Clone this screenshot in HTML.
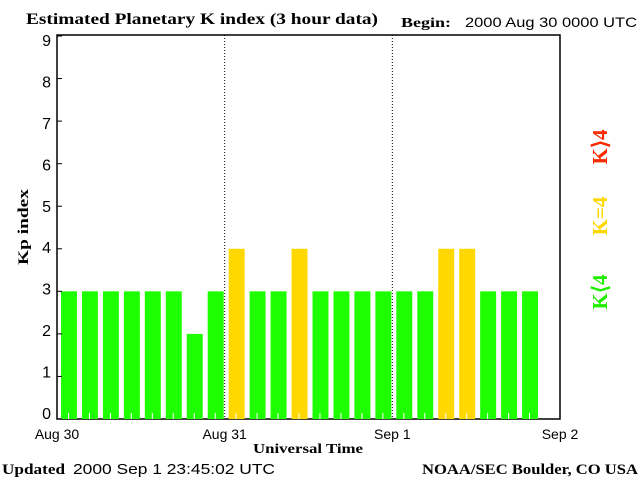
<!DOCTYPE html>
<html><head><meta charset="utf-8"><style>
body{margin:0;background:#fff;width:640px;height:480px;overflow:hidden}
svg text{font-family:"Liberation Sans",sans-serif}
.serif{font-family:"Liberation Serif",serif;font-weight:bold}
</style></head><body>
<svg id="chart" width="640" height="480" xmlns="http://www.w3.org/2000/svg">
<text class="serif" x="26" y="24" font-size="16" textLength="352" lengthAdjust="spacingAndGlyphs">Estimated Planetary K index (3 hour data)</text>
<text class="serif" x="401" y="27" font-size="14" textLength="50" lengthAdjust="spacingAndGlyphs">Begin:</text>
<text x="465" y="27" font-size="14" textLength="172" lengthAdjust="spacingAndGlyphs">2000 Aug 30 0000 UTC</text>
<text class="serif" x="2" y="474" font-size="15" textLength="63" lengthAdjust="spacingAndGlyphs">Updated</text>
<text x="73" y="474" font-size="15" textLength="202" lengthAdjust="spacingAndGlyphs">2000 Sep  1 23:45:02 UTC</text>
<text class="serif" x="422" y="474" font-size="15" textLength="216" lengthAdjust="spacingAndGlyphs">NOAA/SEC Boulder, CO USA</text>
<text class="serif" x="253" y="453" font-size="14" textLength="110" lengthAdjust="spacingAndGlyphs">Universal Time</text>
<text class="serif" transform="translate(28,227) rotate(-90)" font-size="15" text-anchor="middle" textLength="76" lengthAdjust="spacingAndGlyphs">Kp index</text>
<text class="serif" transform="translate(607,292) rotate(-90)" font-size="21" fill="#22ee00" text-anchor="middle">K⟨4</text>
<text class="serif" transform="translate(607,216) rotate(-90)" font-size="21" fill="#ffd800" text-anchor="middle">K=4</text>
<text class="serif" transform="translate(607,147) rotate(-90)" font-size="21" fill="#ff2a00" text-anchor="middle">K⟩4</text>
<g id="plot"></g>
</svg>
<script>
const kpValues=[3,3,3,3,3,3,2,3,4,3,3,4,3,3,3,3,3,3,4,4,3,3,3];
const dayLabels=["Aug 30","Aug 31","Sep 1","Sep 2"];
const yTicks=[0,1,2,3,4,5,6,7,8,9];
const X0=57,X1=560,Y0=419,Y1=36;
const slotW=(X1-X0)/24;
const x=i=>X0+i*slotW;
const y=v=>Y0-(v/9)*(Y0-Y1);
const yl=v=>419-(v/9)*373;
const g=document.getElementById('plot');
const NS='http://www.w3.org/2000/svg';
function mk(t,a){const e=document.createElementNS(NS,t);for(const k in a)e.setAttribute(k,a[k]);g.appendChild(e);return e;}
let f=mk('rect',{x:X0,y:35,width:X1-X0,height:Y0-35,fill:'none',stroke:'#000','stroke-width':1.5});


[1,2].forEach(d=>{const l=mk('line',{x1:x(d*8),x2:x(d*8),y1:35,y2:Y0,stroke:'#000','stroke-dasharray':'1,2'});

});
kpValues.forEach((v,i)=>{const c=v<4?'#1eff00':(v==4?'#ffd800':'#ff2a00');
const r=mk('rect',{x:x(i)+4,y:y(v),width:slotW-5,height:Y0-y(v),fill:c});


const t=mk('line',{x1:x(i)+slotW/2+1,x2:x(i)+slotW/2+1,y1:Y0-6,y2:Y0,stroke:'#fff'});

});
yTicks.forEach(v=>{const l=mk('line',{x1:X0,x2:X0+5,y1:y(v),y2:y(v),stroke:'#000'});


const t=mk('text',{x:51,y:yl(v),'font-size':16,'text-anchor':'end'});t.textContent=v;

});
dayLabels.forEach((d,i)=>{const t=mk('text',{x:x(i*8),y:439,'font-size':14,'text-anchor':'middle'});t.textContent=d;

});
</script>
</body></html>
